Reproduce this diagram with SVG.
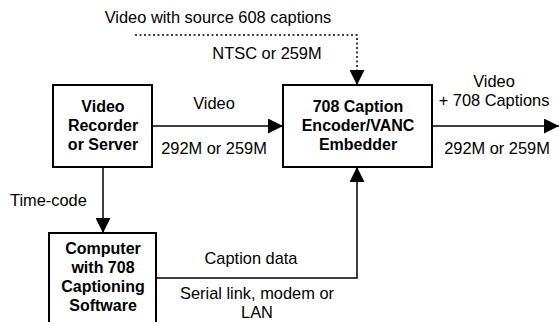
<svg xmlns="http://www.w3.org/2000/svg" width="559" height="322" viewBox="0 0 559 322">
<style>
.box{fill:#fff;stroke:#000;stroke-width:2}
.t{font-family:"Liberation Sans",Arial,sans-serif;font-size:16.4px;fill:#000}
.b{font-family:"Liberation Sans",Arial,sans-serif;font-size:16px;font-weight:bold;fill:#000;text-anchor:middle}
.c{fill:none;stroke:#000;stroke-width:1.5}
.d{fill:none;stroke:#000;stroke-width:1.5;stroke-dasharray:2 2.5}
</style>
<defs>
<marker id="ah" markerWidth="15" markerHeight="15" viewBox="0 0 15 15" refX="15" refY="7.5" orient="auto" markerUnits="userSpaceOnUse">
<path d="M0,0 L15,7.5 L0,15 Z" fill="#000"/>
</marker>
</defs>
<rect width="559" height="322" fill="#fff"/>
<g id="connectors">
<path class="d" d="M135,35 H357 V85" marker-end="url(#ah)"/>
<path class="c" d="M152,126 H283" marker-end="url(#ah)"/>
<path class="c" d="M432,126 H559" marker-end="url(#ah)"/>
<path class="c" d="M103,167 V233" marker-end="url(#ah)"/>
<path class="c" d="M156,278 H357 V167" marker-end="url(#ah)"/>
</g>
<g id="labels">
<text class="t" x="218" y="23" text-anchor="middle">Video with source 608 captions</text>
<text class="t" x="267" y="59" text-anchor="middle">NTSC or 259M</text>
<text class="t" x="214" y="109" text-anchor="middle">Video</text>
<text class="t" x="214" y="154" text-anchor="middle">292M or 259M</text>
<text class="t" x="494" y="87" text-anchor="middle">Video</text>
<text class="t" x="494" y="106" text-anchor="middle">+ 708 Captions</text>
<text class="t" x="497" y="154" text-anchor="middle">292M or 259M</text>
<text class="t" x="10" y="206">Time-code</text>
<text class="t" x="251" y="264" text-anchor="middle">Caption data</text>
<text class="t" x="257" y="299" text-anchor="middle">Serial link, modem or</text>
<text class="t" x="257" y="318" text-anchor="middle">LAN</text>
</g>
<g id="recorder">
<rect class="box" x="53" y="85" width="99" height="82"/>
<text class="b" x="103" y="112">Video</text>
<text class="b" x="103" y="131">Recorder</text>
<text class="b" x="103" y="150">or Server</text>
</g>
<g id="encoder">
<rect class="box" x="283" y="85" width="149" height="82"/>
<text class="b" x="358" y="112">708 Caption</text>
<text class="b" x="358" y="131">Encoder/VANC</text>
<text class="b" x="358" y="150">Embedder</text>
</g>
<g id="computer">
<rect class="box" x="49" y="233" width="107" height="100"/>
<text class="b" x="103" y="254">Computer</text>
<text class="b" x="103" y="273">with 708</text>
<text class="b" x="103" y="292">Captioning</text>
<text class="b" x="103" y="311">Software</text>
</g>
</svg>
